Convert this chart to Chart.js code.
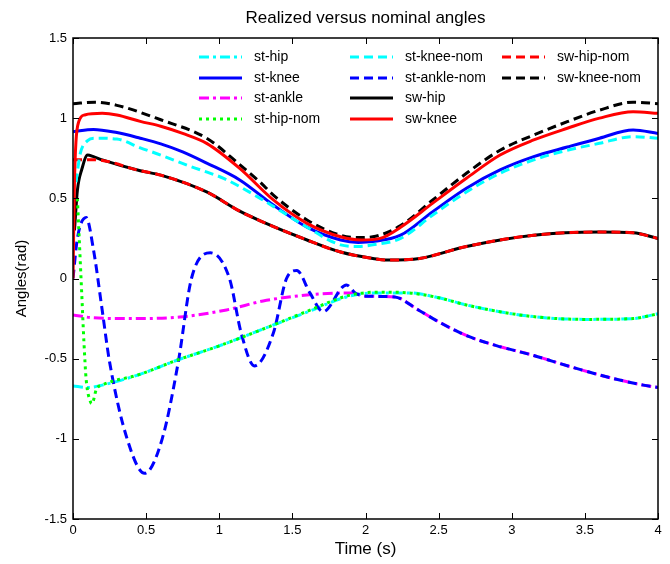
<!DOCTYPE html>
<html>
<head>
<meta charset="utf-8">
<script src="https://cdn.jsdelivr.net/npm/chart.js@4.4.0/dist/chart.umd.min.js"></script>
<style>
  html, body { margin: 0; padding: 0; background: #fff; }
  #wrap { width: 670px; height: 564px; }
</style>
</head>
<body>
<div id="wrap"><canvas id="anglesChart" width="670" height="564"></canvas></div>
<script>
// [time (s), angle (rad)]
var stHip = [[0,-0.67],[0.1,-0.68],[0.2,-0.665],[0.45,-0.6],[0.71,-0.51],[1.0,-0.42],[1.37,-0.29],[1.6,-0.21],[1.89,-0.11],[2.1,-0.09],[2.3,-0.09],[2.5,-0.12],[2.69,-0.165],[3.0,-0.22],[3.26,-0.247],[3.5,-0.255],[3.83,-0.25],[3.95,-0.23],[4.0,-0.22]];
var stKnee = [[0,0.916],[0.14,0.93],[0.3,0.91],[0.46,0.875],[0.6,0.84],[0.75,0.79],[0.914,0.72],[1.14,0.615],[1.37,0.458],[1.6,0.32],[1.83,0.24],[1.95,0.225],[2.05,0.23],[2.24,0.27],[2.46,0.417],[2.69,0.563],[2.92,0.677],[3.15,0.76],[3.38,0.82],[3.6,0.875],[3.83,0.926],[4.0,0.905]];
var stAnkle = [[0,-0.228],[0.14,-0.245],[0.4,-0.25],[0.73,-0.24],[1.05,-0.196],[1.3,-0.14],[1.5,-0.113],[1.7,-0.095],[1.91,-0.09],[2.0,-0.11],[2.2,-0.115],[2.35,-0.19],[2.5,-0.27],[2.7,-0.36],[2.9,-0.42],[3.15,-0.48],[3.4,-0.55],[3.7,-0.625],[3.9,-0.665],[4.0,-0.68]];
var stHipNom = [[0.03,0.5],[0.045,0.2],[0.06,-0.1],[0.075,-0.4],[0.09,-0.63],[0.12,-0.77],[0.13,-0.78],[0.16,-0.69],[0.2,-0.665],[0.45,-0.6],[0.71,-0.51],[1.0,-0.42],[1.37,-0.29],[1.6,-0.205],[1.89,-0.105],[2.1,-0.085],[2.3,-0.09],[2.5,-0.12],[2.69,-0.165],[3.0,-0.22],[3.26,-0.247],[3.5,-0.255],[3.83,-0.25],[3.95,-0.23],[4.0,-0.22]];
var stKneeNom = [[0.02,0.6],[0.05,0.78],[0.1,0.86],[0.15,0.875],[0.3,0.87],[0.46,0.815],[0.6,0.77],[0.8,0.7],[0.94,0.656],[1.03,0.625],[1.28,0.5],[1.37,0.45],[1.6,0.32],[1.83,0.21],[1.95,0.2],[2.05,0.21],[2.24,0.25],[2.46,0.396],[2.69,0.54],[2.92,0.656],[3.15,0.74],[3.38,0.8],[3.6,0.843],[3.83,0.885],[4.0,0.875]];
var stAnkleNom = [[0,0.0],[0.03,0.25],[0.09,0.38],[0.14,0.18],[0.2,-0.2],[0.25,-0.52],[0.37,-1.0],[0.49,-1.215],[0.61,-1.0],[0.72,-0.52],[0.81,0.0],[0.94,0.16],[1.07,0.0],[1.15,-0.34],[1.24,-0.545],[1.37,-0.34],[1.46,0.0],[1.53,0.05],[1.62,-0.09],[1.71,-0.207],[1.87,-0.04],[1.93,-0.09],[2.0,-0.11],[2.2,-0.115],[2.35,-0.19],[2.5,-0.27],[2.7,-0.36],[2.9,-0.42],[3.15,-0.48],[3.4,-0.55],[3.7,-0.625],[3.9,-0.665],[4.0,-0.68]];
var swHipNom = [[0,0.74],[0.15,0.74],[0.46,0.672],[0.6,0.645],[0.914,0.54],[1.14,0.42],[1.28,0.36],[1.6,0.24],[1.83,0.165],[2.05,0.125],[2.15,0.115],[2.37,0.125],[2.69,0.2],[3.15,0.27],[3.6,0.29],[3.83,0.285],[4.0,0.25]];
var swKneeNom = [[0,1.09],[0.15,1.1],[0.3,1.08],[0.6,0.99],[0.914,0.875],[1.14,0.71],[1.28,0.6],[1.37,0.52],[1.6,0.365],[1.83,0.27],[1.95,0.255],[2.05,0.26],[2.24,0.33],[2.46,0.49],[2.69,0.656],[2.92,0.8],[3.15,0.895],[3.38,0.978],[3.6,1.05],[3.83,1.1],[4.0,1.09]];
var swHip = [[0.01,0.3],[0.03,0.55],[0.06,0.68],[0.1,0.77],[0.14,0.76],[0.2,0.74],[0.46,0.672],[0.6,0.645],[0.914,0.54],[1.14,0.42],[1.28,0.36],[1.6,0.24],[1.83,0.165],[2.05,0.125],[2.15,0.115],[2.37,0.125],[2.69,0.2],[3.15,0.27],[3.6,0.29],[3.83,0.285],[4.0,0.25]];
var swKnee = [[0,0.0],[0.01,0.6],[0.02,0.85],[0.04,0.98],[0.08,1.02],[0.2,1.03],[0.3,1.02],[0.46,0.98],[0.6,0.95],[0.75,0.905],[0.914,0.843],[1.14,0.687],[1.37,0.49],[1.6,0.344],[1.83,0.26],[1.97,0.24],[2.1,0.25],[2.24,0.32],[2.46,0.47],[2.69,0.625],[2.92,0.77],[3.15,0.864],[3.38,0.937],[3.6,1.0],[3.83,1.04],[4.0,1.03]];

var xTicks = [0, 0.5, 1, 1.5, 2, 2.5, 3, 3.5, 4];
var yTicks = [-1.5, -1, -0.5, 0, 0.5, 1, 1.5];
var titleText = 'Realized versus nominal angles';

var DASH = [9, 5];
var DASHDOT = [10, 4, 3, 4];
var DOT = [3, 4];
var FONT = '"Liberation Sans", Arial, sans-serif';

function pts(arr) {
  return arr.map(function(p){ return {x: p[0], y: p[1]}; });
}

function ds(label, arr, color, dash, order) {
  return {
    label: label,
    data: pts(arr),
    borderColor: color,
    backgroundColor: color,
    borderWidth: 3,
    borderDash: dash,
    pointRadius: 0,
    fill: false,
    cubicInterpolationMode: 'monotone',
    order: order
  };
}

// realized curves under the nominal ones
var datasets = [
  ds('st-hip', stHip, '#00ffff', DASHDOT, 2),
  ds('st-knee', stKnee, '#0000ff', [], 2),
  ds('st-ankle', stAnkle, '#ff00ff', DASHDOT, 2),
  ds('st-hip-nom', stHipNom, '#00ff00', DOT, 1),
  ds('st-knee-nom', stKneeNom, '#00ffff', DASH, 1),
  ds('st-ankle-nom', stAnkleNom, '#0000ff', DASH, 1),
  ds('sw-hip-nom', swHipNom, '#ff0000', DASH, 1),
  ds('sw-knee-nom', swKneeNom, '#000000', DASH, 1),
  ds('sw-hip', swHip, '#000000', [], 2),
  ds('sw-knee', swKnee, '#ff0000', [], 0)
];

// matlab-ish box with inward ticks, title centred over the axes
var boxTicks = {
  id: 'boxTicks',
  afterDatasetsDraw: function(chart) {
    var ctx = chart.ctx, a = chart.chartArea, x = chart.scales.x, y = chart.scales.y;
    ctx.save();
    ctx.setLineDash([]);
    ctx.strokeStyle = '#000';
    ctx.lineWidth = 1;
    ctx.beginPath();
    xTicks.forEach(function(v){
      var px = Math.round(x.getPixelForValue(v)) + 0.5;
      ctx.moveTo(px, a.bottom); ctx.lineTo(px, a.bottom - 6);
      ctx.moveTo(px, a.top); ctx.lineTo(px, a.top + 6);
    });
    yTicks.forEach(function(v){
      var py = Math.round(y.getPixelForValue(v)) + 0.5;
      ctx.moveTo(a.left, py); ctx.lineTo(a.left + 6, py);
      ctx.moveTo(a.right, py); ctx.lineTo(a.right - 6, py);
    });
    ctx.stroke();
    ctx.lineWidth = 1.5;
    ctx.strokeRect(Math.round(a.left), Math.round(a.top), Math.round(a.right - a.left), Math.round(a.bottom - a.top));

    ctx.fillStyle = '#000';
    ctx.font = '17px ' + FONT;
    ctx.textAlign = 'center';
    ctx.textBaseline = 'middle';
    ctx.fillText(titleText, (a.left + a.right) / 2, 18);
    ctx.restore();
  }
};

// three column legend inside the axes
var innerLegend = {
  id: 'innerLegend',
  afterDraw: function(chart) {
    var ctx = chart.ctx;
    var cols = [199, 350, 502];
    var rows = [57, 78, 98, 119];
    var colOf = [0,0,0,0,1,1,1,1,2,2];
    var rowOf = [0,1,2,3,0,1,2,3,0,1];
    var legendIdx = [0,1,2,3,4,5,8,9,6,7];
    ctx.save();
    ctx.font = '14px ' + FONT;
    ctx.textBaseline = 'middle';
    ctx.textAlign = 'left';
    legendIdx.forEach(function(i, k){
      var d = chart.data.datasets[i];
      var lx = cols[colOf[k]], ly = rows[rowOf[k]];
      ctx.beginPath();
      ctx.setLineDash(d.borderDash);
      ctx.strokeStyle = d.borderColor;
      ctx.lineWidth = 3;
      ctx.moveTo(lx, ly);
      ctx.lineTo(lx + 43, ly);
      ctx.stroke();
      ctx.setLineDash([]);
      ctx.fillStyle = '#000';
      ctx.fillText(d.label, lx + 55, ly);
    });
    ctx.restore();
  }
};

var ctx = document.getElementById('anglesChart');
var chart = new Chart(ctx, {
  type: 'line',
  data: { datasets: datasets },
  options: {
    responsive: false,
    animation: false,
    layout: { padding: { left: 0, right: 12, top: 38, bottom: 0 } },
    plugins: {
      legend: { display: false },
      tooltip: { enabled: false },
      title: { display: false }
    },
    scales: {
      x: {
        type: 'linear',
        min: 0,
        max: 4,
        grid: { display: false, drawTicks: false },
        border: { display: false },
        afterBuildTicks: function(s){ s.ticks = xTicks.map(function(v){ return {value: v}; }); },
        afterFit: function(s){ s.height = 45; },
        ticks: {
          color: '#000',
          padding: 4,
          autoSkip: false,
          maxRotation: 0,
          font: { family: FONT, size: 13 },
          callback: function(v){ return String(v); }
        },
        title: {
          display: true,
          text: 'Time (s)',
          color: '#000',
          font: { family: FONT, size: 17 },
          padding: { top: 0, bottom: 4 }
        }
      },
      y: {
        type: 'linear',
        min: -1.5,
        max: 1.5,
        grid: { display: false, drawTicks: false },
        border: { display: false },
        afterBuildTicks: function(s){ s.ticks = yTicks.map(function(v){ return {value: v}; }); },
        afterFit: function(s){ s.width = 73; },
        ticks: {
          color: '#000',
          padding: 6,
          autoSkip: false,
          font: { family: FONT, size: 13 },
          callback: function(v){ return String(v); }
        },
        title: {
          display: true,
          text: 'Angles(rad)',
          color: '#000',
          font: { family: FONT, size: 15 },
          padding: { top: 13, bottom: 0 }
        }
      }
    }
  },
  plugins: [boxTicks, innerLegend]
});
</script>
</body>
</html>
